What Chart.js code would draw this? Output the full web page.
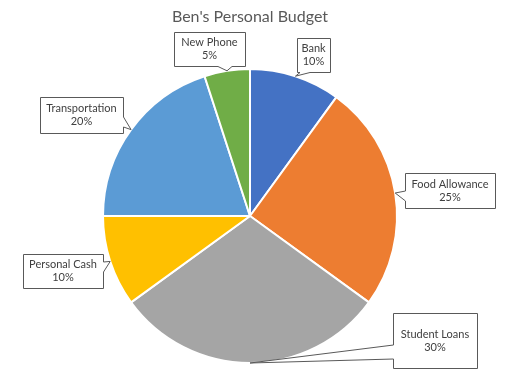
<!DOCTYPE html>
<html lang="en">
<head>
<meta charset="UTF-8" />
<title>Ben's Personal Budget</title>
<script src="https://cdn.jsdelivr.net/npm/chart.js"></script>
<style>
  html, body { margin: 0; padding: 0; background: #fff; }
  .wrap { width: 512px; height: 389px; position: relative; }
</style>
</head>
<body>
<div class="wrap"><canvas id="budgetChart"></canvas></div>
<script>
  const chartTitle = "Ben's Personal Budget";
  const categories = ['Bank', 'Food Allowance', 'Student Loans', 'Personal Cash', 'Transportation', 'New Phone'];
  const shares = [10, 25, 30, 10, 20, 5];
  const sliceColors = ['#4472C4', '#ED7D31', '#A5A5A5', '#FFC000', '#5B9BD5', '#70AD47'];

  // label boxes (same order as categories), pointer sits on one side between a and b
  const callouts = [
    { x: 297, y: 38, w: 33, h: 34, side: 'bottom', a: 300, b: 310 },
    { x: 405, y: 173, w: 90, h: 35, side: 'left', a: 191, b: 201 },
    { x: 393, y: 313, w: 84, h: 55, side: 'left', a: 345, b: 359 },
    { x: 23, y: 254, w: 80, h: 34, side: 'right', a: 262, b: 272 },
    { x: 40, y: 97, w: 83, h: 36, side: 'right', a: 117, b: 127 },
    { x: 174, y: 32, w: 71, h: 34, side: 'bottom', a: 218, b: 232 }
  ];

  function calloutPath(ctx, c, tx, ty) {
    const L = c.x + 0.5, T = c.y + 0.5, R = c.x + c.w + 0.5, B = c.y + c.h + 0.5;
    ctx.beginPath();
    ctx.moveTo(L, T);
    if (c.side === 'top') { ctx.lineTo(c.a, T); ctx.lineTo(tx, ty); ctx.lineTo(c.b, T); }
    ctx.lineTo(R, T);
    if (c.side === 'right') { ctx.lineTo(R, c.a); ctx.lineTo(tx, ty); ctx.lineTo(R, c.b); }
    ctx.lineTo(R, B);
    if (c.side === 'bottom') { ctx.lineTo(c.b, B); ctx.lineTo(tx, ty); ctx.lineTo(c.a, B); }
    ctx.lineTo(L, B);
    if (c.side === 'left') { ctx.lineTo(L, c.b); ctx.lineTo(tx, ty); ctx.lineTo(L, c.a); }
    ctx.closePath();
  }

  const calloutPlugin = {
    id: 'callouts',
    afterDatasetsDraw(chart) {
      const ctx = chart.ctx;
      const arcs = chart.getDatasetMeta(0).data;
      const total = shares.reduce((s, v) => s + v, 0);
      ctx.save();
      arcs.forEach((arc, i) => {
        const p = arc.getProps(['x', 'y', 'startAngle', 'endAngle', 'outerRadius'], true);
        const mid = (p.startAngle + p.endAngle) / 2;
        const tx = p.x + Math.cos(mid) * p.outerRadius;
        const ty = p.y + Math.sin(mid) * p.outerRadius;
        const c = callouts[i];
        calloutPath(ctx, c, tx, ty);
        ctx.fillStyle = '#fff';
        ctx.fill();
        ctx.lineWidth = 1;
        ctx.strokeStyle = '#595959';
        ctx.stroke();

        ctx.fillStyle = '#404040';
        ctx.font = '11px Lato';
        ctx.textAlign = 'center';
        ctx.textBaseline = 'middle';
        const cx = c.x + c.w / 2, cy = c.y + c.h / 2;
        ctx.fillText(categories[i], cx, cy - 6.5);
        ctx.fillText(Math.round(shares[i] / total * 100) + '%', cx, cy + 6.5);
      });

      ctx.fillStyle = '#595959';
      ctx.font = '16px Lato';
      ctx.textAlign = 'center';
      ctx.textBaseline = 'middle';
      ctx.fillText(chartTitle, 250, 17);
      ctx.restore();
    }
  };

  new Chart(document.getElementById('budgetChart'), {
    type: 'pie',
    data: {
      labels: categories,
      datasets: [{
        data: shares,
        backgroundColor: sliceColors,
        borderColor: '#fff',
        borderWidth: 2
      }]
    },
    options: {
      responsive: true,
      maintainAspectRatio: false,
      animation: false,
      layout: { padding: { top: 68, bottom: 25, left: 102, right: 114 } },
      plugins: {
        legend: { display: false },
        tooltip: { enabled: false },
        title: { display: false }
      }
    },
    plugins: [calloutPlugin]
  });
</script>
</body>
</html>
